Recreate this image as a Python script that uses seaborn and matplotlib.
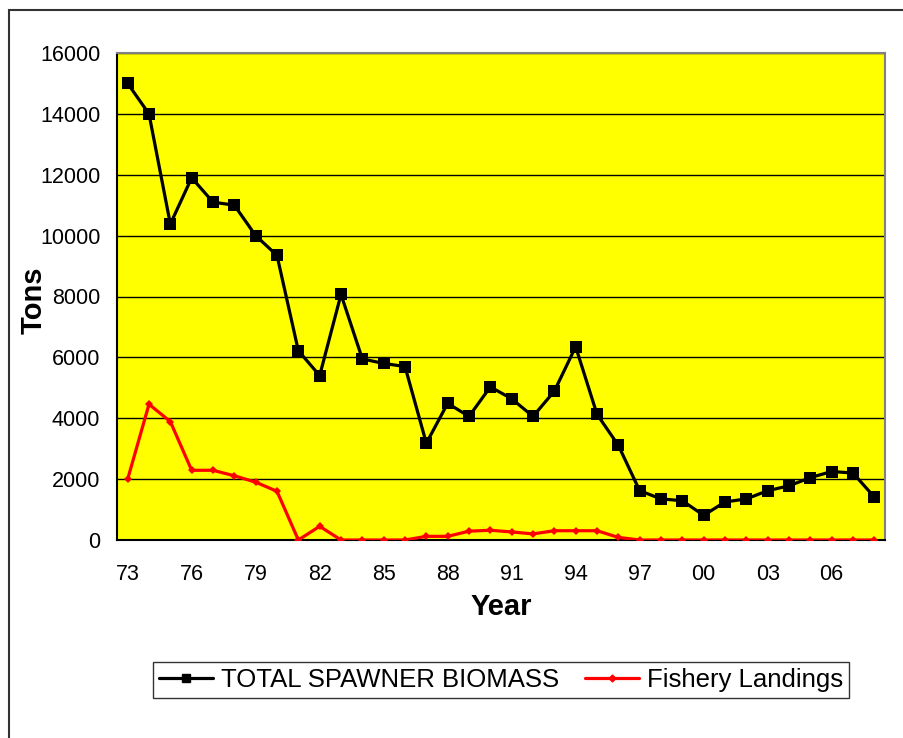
import matplotlib
matplotlib.use("Agg")
import matplotlib.pyplot as plt
import matplotlib.patches as mpatches
import numpy as np
import pandas as pd
import seaborn as sns

# Data
years = list(range(1973, 2009))
biomass = [15000, 14000, 10380, 11900, 11100, 11000, 10000, 9350, 6220, 5400,
           8070, 5950, 5800, 5700, 3180, 4490, 4060, 5030, 4640, 4060,
           4890, 6350, 4130, 3110, 1620, 1350, 1290, 810, 1250, 1350,
           1620, 1780, 2050, 2250, 2200, 1410]
landings = [2000, 4460, 3890, 2290, 2290, 2110, 1900, 1600, 0, 450,
            0, 0, 0, 0, 120, 120, 290, 320, 265, 200,
            305, 305, 305, 85, 0, 0, 0, 0, 0, 0,
            0, 0, 0, 0, 0, 0]
series_names = ["TOTAL SPAWNER BIOMASS", "Fishery Landings"]
label_years = years[::3]
yticks = list(range(0, 16001, 2000))

df = pd.DataFrame({
    "Year": years * 2,
    "Tons": biomass + landings,
    "Series": [series_names[0]] * len(years) + [series_names[1]] * len(years),
})

sns.set_style("white")
plt.rcParams["font.family"] = ["Liberation Sans", "DejaVu Sans"]
plt.rcParams["text.color"] = "black"
plt.rcParams["axes.labelcolor"] = "black"
plt.rcParams["xtick.color"] = "black"
plt.rcParams["ytick.color"] = "black"

fig = plt.figure(figsize=(9.04, 7.38), dpi=100)
ax = fig.add_axes([117 / 904, 1 - 540 / 738, (885 - 117) / 904, (540 - 53) / 738])
ax.set_facecolor("#FFFF00")

# outer chart border (only left and top show in the reference)
fig.patches.append(mpatches.Rectangle((9 / 904, -0.1), 1.2, (1 - 10 / 738) + 0.1,
                                      transform=fig.transFigure, fill=False,
                                      edgecolor="#333333", linewidth=1.5))

sns.lineplot(data=df, x="Year", y="Tons", hue="Series", style="Series",
             palette={series_names[0]: "black", series_names[1]: "#FF0000"},
             markers={series_names[0]: "s", series_names[1]: "D"},
             dashes=False, linewidth=2.3, markeredgewidth=0, ax=ax, legend=False)
lines = ax.get_lines()
lines[0].set_markersize(8.5)
lines[1].set_markersize(4.5)
lines[1].set_zorder(3)
lines[0].set_zorder(4)

ax.set_xlim(1972.5, 2008.5)
ax.set_ylim(0, 16000)
ax.set_yticks(yticks)
ax.set_yticklabels([str(v) for v in yticks])
ax.yaxis.grid(True, color="black", linewidth=1)
ax.set_axisbelow(True)

# category boundaries as tick marks, labels every third year
ax.set_xticks(np.arange(1972.5, 2009, 1.0))
ax.set_xticklabels([])
ax.set_xticks(label_years, minor=True)
ax.set_xticklabels([f"{y % 100:02d}" for y in label_years], minor=True)
ax.tick_params(axis="x", which="major", length=5, width=1, direction="out")
ax.tick_params(axis="x", which="minor", length=0, pad=17, labelsize=15.5)
ax.tick_params(axis="y", length=5, width=1, direction="out", pad=7, labelsize=15.5)

for side in ["left", "bottom"]:
    ax.spines[side].set_color("black")
    ax.spines[side].set_linewidth(1.5)
for side in ["top", "right"]:
    ax.spines[side].set_color("#808080")
    ax.spines[side].set_linewidth(1.5)

ax.set_xlabel("Year", fontsize=21, fontweight="bold", labelpad=6)
ax.set_ylabel("Tons", fontsize=21, fontweight="bold")
ax.yaxis.set_label_coords(-0.09, 0.493)

handles = [
    plt.Line2D([], [], color="black", marker="s", markersize=6, linewidth=2.3),
    plt.Line2D([], [], color="#FF0000", marker="D", markersize=3.5, linewidth=2.3),
]
leg = fig.legend(handles, series_names, loc="center", ncol=2,
                 bbox_to_anchor=(501 / 904, 1 - 680 / 738), frameon=True,
                 fancybox=False, edgecolor="black", fontsize=18.5,
                 handlelength=2.1, handletextpad=0.3, columnspacing=1.0,
                 borderpad=0.25, borderaxespad=0)
leg.get_frame().set_linewidth(1)

fig.savefig("out.png", dpi=100, facecolor="white")
